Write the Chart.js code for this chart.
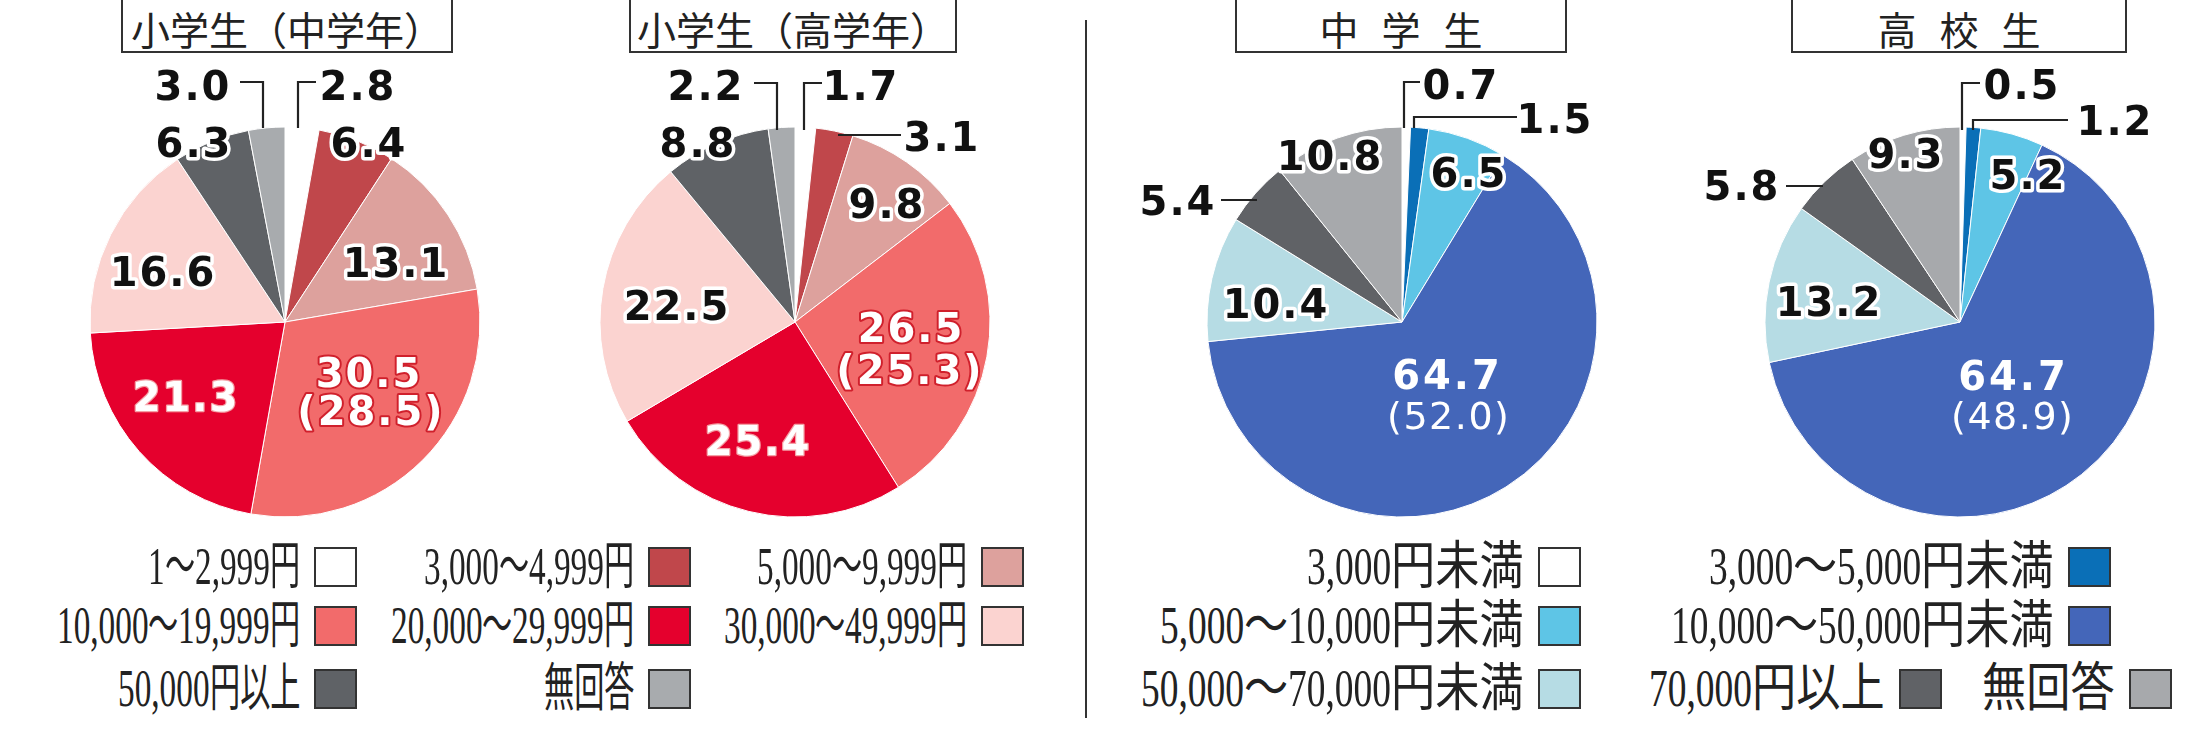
<!DOCTYPE html>
<html lang="ja">
<head>
  <meta charset="UTF-8">
  <title>おこづかいの月額</title>
  <script src="https://cdn.jsdelivr.net/npm/chart.js"></script>
  <style>
    body { margin: 0; background: #fff; }
    #wrap { position: relative; width: 2205px; height: 737px; overflow: hidden; background: #fff; }
    #wrap canvas { position: absolute; top: 0; }
    .title {
      position: absolute; top: -3px; height: 56px; box-sizing: border-box;
      border: 2px solid #333; padding-top: 6px; line-height: 46px;
      font-family: 'Noto Sans CJK JP', sans-serif; font-size: 39px; color: #222;
      text-align: center; white-space: nowrap;
    }
    .title.spaced { letter-spacing: 23px; padding-left: 23px; }
    .divider { position: absolute; left: 1085px; top: 20px; width: 2px; height: 698px; background: #333; }
    .item { position: absolute; height: 44px; display: flex; align-items: center; white-space: nowrap; }
    .item .txt { font-family: 'Liberation Serif', 'Noto Sans CJK JP', serif; font-size: 52px; line-height: 44px; color: #222; }
    .item .sw { width: 43px; height: 40px; box-sizing: border-box; border: 2px solid #333; margin-left: 14px; }
    .run { display: inline-block; transform-origin: left center; }
  </style>
</head>
<body>
  <div id="wrap">
    <div class="title" style="left:121px; width:332px;">小学生（中学年）</div>
    <div class="title" style="left:629px; width:328px;">小学生（高学年）</div>
    <div class="title spaced" style="left:1235px; width:332px;">中学生</div>
    <div class="title spaced" style="left:1791px; width:336px;">高校生</div>
    <div class="divider"></div>
    <canvas id="c1" width="545" height="540" style="left:0px"></canvas>
    <canvas id="c2" width="540" height="540" style="left:545px"></canvas>
    <canvas id="c3" width="590" height="540" style="left:1090px"></canvas>
    <canvas id="c4" width="525" height="540" style="left:1680px"></canvas>
  </div>

  <script>
    // 小学生の区分
    const elemCategories = ['1〜2,999円', '3,000〜4,999円', '5,000〜9,999円', '10,000〜19,999円',
      '20,000〜29,999円', '30,000〜49,999円', '50,000円以上', '無回答'];
    const elemMiddleValues = [2.8, 6.4, 13.1, 30.5, 21.3, 16.6, 6.3, 3.0];
    const elemMiddlePrev = [null, null, null, 28.5, null, null, null, null];
    const elemUpperValues = [1.7, 3.1, 9.8, 26.5, 25.4, 22.5, 8.8, 2.2];
    const elemUpperPrev = [null, null, null, 25.3, null, null, null, null];

    // 中学生・高校生の区分
    const secCategories = ['3,000円未満', '3,000〜5,000円未満', '5,000〜10,000円未満', '10,000〜50,000円未満',
      '50,000〜70,000円未満', '70,000円以上', '無回答'];
    const juniorValues = [0.7, 1.5, 6.5, 64.7, 10.4, 5.4, 10.8];
    const juniorPrev = [null, null, null, 52.0, null, null, null];
    const highValues = [0.5, 1.2, 5.2, 64.7, 13.2, 5.8, 9.3];
    const highPrev = [null, null, null, 48.9, null, null, null];

    const elemColors = ['#ffffff', '#c0474b', '#dda19d', '#f26b6b', '#e5002d', '#fbd3d0', '#5f6266', '#a8abae'];
    const secColors = ['#ffffff', '#0a6fb7', '#5ec5e6', '#4466b9', '#b6dce4', '#606266', '#a7a9ac'];

    const R = 195;
    const CY = 322;

    const labelStyles = {
      dark:  { fill: '#111', stroke: '#fff', lw: 7, weight: 'bold', size: 40, spacing: 2 },
      red:   { fill: '#fff', stroke: '#d0202c', lw: 4, weight: 'bold', size: 40, spacing: 2 },
      onred: { fill: '#fff', stroke: '#f4a0a6', lw: 2.5, weight: 'bold', size: 40, spacing: 2 },
      blue:  { fill: '#fff', stroke: null, weight: 'bold', size: 40, spacing: 3 },
      blueSub: { fill: '#fff', stroke: null, weight: 'normal', size: 38, spacing: 1.5 }
    };

    // label offsets from the pie centre, one entry per slice
    const elemMiddleLabels = [
      { dx: 72, dy: -237, style: 'dark', leader: [[13, -194], [13, -240], [31, -240]] },
      { dx: 83, dy: -180, style: 'dark' },
      { dx: 110, dy: -60, style: 'dark' },
      { dx: 83, dy: 50, style: 'red', sub: { dx: 85, dy: 88, style: 'red' } },
      { dx: -100, dy: 74, style: 'onred' },
      { dx: -123, dy: -51, style: 'dark' },
      { dx: -92, dy: -180, style: 'dark' },
      { dx: -93, dy: -237, style: 'dark', leader: [[-45, -240], [-22, -240], [-22, -194]] }
    ];
    const elemUpperLabels = [
      { dx: 65, dy: -237, style: 'dark', leader: [[9, -192], [9, -239], [27, -239]] },
      { dx: 146, dy: -186, style: 'dark', leader: [[43, -187], [106, -187]] },
      { dx: 91, dy: -119, style: 'dark' },
      { dx: 115, dy: 5, style: 'red', sub: { dx: 114, dy: 47, style: 'red' } },
      { dx: -38, dy: 118, style: 'onred' },
      { dx: -119, dy: -17, style: 'dark' },
      { dx: -98, dy: -180, style: 'dark' },
      { dx: -90, dy: -237, style: 'dark', leader: [[-41, -239], [-18, -239], [-18, -192]] }
    ];
    const juniorLabels = [
      { dx: 58, dy: -238, style: 'dark', leader: [[2, -194], [2, -240], [18, -240]] },
      { dx: 152, dy: -204, style: 'dark', leader: [[12, -194], [12, -205], [115, -205]] },
      { dx: 66, dy: -150, style: 'dark' },
      { dx: 44, dy: 52, style: 'blue', sub: { dx: 46, dy: 93, style: 'blueSub' } },
      { dx: -127, dy: -19, style: 'dark' },
      { dx: -225, dy: -122, style: 'dark', leader: [[-181, -122], [-145, -122]] },
      { dx: -73, dy: -167, style: 'dark' }
    ];
    const highLabels = [
      { dx: 61, dy: -238, style: 'dark', leader: [[2, -192], [2, -239], [20, -239]] },
      { dx: 154, dy: -202, style: 'dark', leader: [[13, -192], [13, -202], [108, -202]] },
      { dx: 67, dy: -148, style: 'dark' },
      { dx: 52, dy: 53, style: 'blue', sub: { dx: 52, dy: 93, style: 'blueSub' } },
      { dx: -132, dy: -21, style: 'dark' },
      { dx: -219, dy: -137, style: 'dark', leader: [[-174, -136], [-137, -136]] },
      { dx: -55, dy: -169, style: 'dark' }
    ];

    function drawText(ctx, text, x, y, st) {
      ctx.font = `${st.weight} ${st.size}px "DejaVu Sans"`;
      ctx.letterSpacing = (st.spacing || 0) + 'px';
      ctx.textAlign = 'center';
      ctx.textBaseline = 'alphabetic';
      const by = y + st.size * 0.365;
      const bx = x + (st.spacing || 0) / 2;
      if (st.stroke) {
        ctx.lineJoin = 'round';
        ctx.strokeStyle = st.stroke;
        ctx.lineWidth = st.lw;
        ctx.strokeText(text, bx, by);
      }
      ctx.fillStyle = st.fill;
      ctx.fillText(text, bx, by);
      ctx.letterSpacing = '0px';
    }

    function sliceLabels(values, prev, layout) {
      return {
        id: 'sliceLabels',
        afterDatasetsDraw(chart) {
          const ctx = chart.ctx;
          const arc = chart.getDatasetMeta(0).data[0];
          const cx = arc.x, cy = arc.y;
          ctx.save();
          ctx.strokeStyle = '#222';
          ctx.lineWidth = 2.2;
          layout.forEach(p => {
            if (!p.leader) return;
            ctx.beginPath();
            p.leader.forEach(([lx, ly], k) => {
              if (k === 0) ctx.moveTo(cx + lx, cy + ly);
              else ctx.lineTo(cx + lx, cy + ly);
            });
            ctx.stroke();
          });
          layout.forEach((p, i) => {
            drawText(ctx, values[i].toFixed(1), cx + p.dx, cy + p.dy, labelStyles[p.style]);
            if (p.sub && prev[i] != null) {
              drawText(ctx, '(' + prev[i].toFixed(1) + ')', cx + p.sub.dx, cy + p.sub.dy, labelStyles[p.sub.style]);
            }
          });
          ctx.restore();
        }
      };
    }

    function makePie(id, left, cx, categories, values, prev, colors, layout) {
      const canvas = document.getElementById(id);
      const w = canvas.width, h = canvas.height;
      const px = cx - left;
      new Chart(canvas.getContext('2d'), {
        type: 'pie',
        data: {
          labels: categories,
          datasets: [{
            data: values,
            backgroundColor: colors,
            borderColor: '#ffffff',
            borderWidth: 1
          }]
        },
        options: {
          responsive: false,
          animation: false,
          events: [],
          radius: R,
          layout: { padding: { left: px - R, right: w - px - R, top: CY - R, bottom: h - CY - R } },
          plugins: { legend: { display: false }, tooltip: { enabled: false } }
        },
        plugins: [sliceLabels(values, prev, layout)]
      });
    }

    makePie('c1', 0, 285, elemCategories, elemMiddleValues, elemMiddlePrev, elemColors, elemMiddleLabels);
    makePie('c2', 545, 795, elemCategories, elemUpperValues, elemUpperPrev, elemColors, elemUpperLabels);
    makePie('c3', 1090, 1402, secCategories, juniorValues, juniorPrev, secColors, juniorLabels);
    makePie('c4', 1680, 1960, secCategories, highValues, highPrev, secColors, highLabels);

    // legends: swatch right edge and row centre
    const elemLegendPos = [[357, 567], [691, 567], [1024, 567], [357, 626], [691, 626], [1024, 626], [357, 689], [691, 689]];
    const secLegendPos = [[1581, 567], [2111, 567], [1581, 626], [2111, 626], [1581, 689], [1942, 689], [2172, 689]];

    function addRuns(el, text, asciiScale, cjkScale) {
      text.match(/[\x00-\x7F]+|[^\x00-\x7F]+/g).forEach(part => {
        const s = /^[\x00-\x7F]/.test(part) ? asciiScale : cjkScale;
        const span = document.createElement('span');
        span.className = 'run';
        span.textContent = part;
        span.style.transform = `scaleX(${s})`;
        span.dataset.scale = s;
        el.appendChild(span);
      });
    }

    function buildLegend(categories, colors, pos, asciiScale, cjkScale) {
      const wrap = document.getElementById('wrap');
      categories.forEach((cat, i) => {
        const item = document.createElement('div');
        item.className = 'item';
        item.style.right = (2205 - pos[i][0]) + 'px';
        item.style.top = (pos[i][1] - 22) + 'px';
        const txt = document.createElement('span');
        txt.className = 'txt';
        addRuns(txt, cat, asciiScale, cjkScale);
        const sw = document.createElement('span');
        sw.className = 'sw';
        sw.style.background = colors[i];
        item.appendChild(txt);
        item.appendChild(sw);
        wrap.appendChild(item);
      });
    }

    function fitRuns() {
      document.querySelectorAll('.run').forEach(span => {
        const s = parseFloat(span.dataset.scale);
        span.style.marginRight = (-(1 - s) * span.offsetWidth) + 'px';
      });
    }

    buildLegend(elemCategories, elemColors, elemLegendPos, 0.64, 0.58);
    buildLegend(secCategories, secColors, secLegendPos, 0.72, 0.85);
    fitRuns();
    document.fonts.ready.then(fitRuns);
  </script>
</body>
</html>
